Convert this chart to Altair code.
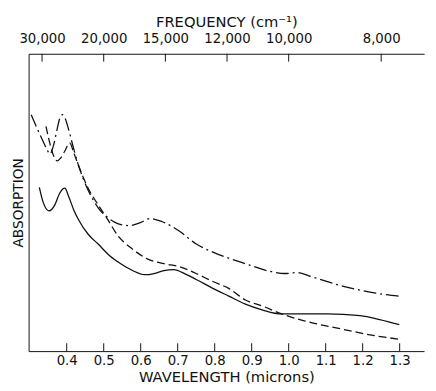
import altair as alt
import pandas as pd

# ---- data (wavelength in microns, absorption in arbitrary units) ----
dashdot_wl = [0.304, 0.320, 0.336, 0.347, 0.355, 0.363, 0.374, 0.381, 0.389, 0.397, 0.405,
              0.419, 0.432, 0.458, 0.485, 0.511, 0.538, 0.570, 0.599, 0.625, 0.657, 0.705,
              0.750, 0.795, 0.883, 0.954, 0.989, 1.023, 1.060, 1.148, 1.236, 1.299]
dashdot_abs = [7.95, 7.49, 7.06, 6.77, 6.63, 6.86, 7.46, 7.82, 7.95, 7.79, 7.46,
               6.80, 6.24, 5.41, 4.82, 4.49, 4.29, 4.22, 4.32, 4.46, 4.36, 4.03,
               3.60, 3.33, 2.94, 2.67, 2.61, 2.64, 2.51, 2.18, 1.95, 1.85]

dashed_wl = [0.344, 0.355, 0.366, 0.374, 0.384, 0.395, 0.408, 0.419, 0.432, 0.458, 0.485,
             0.511, 0.538, 0.578, 0.618, 0.663, 0.705, 0.750, 0.795, 0.838, 0.883, 0.928,
             0.981, 1.042, 1.148, 1.228, 1.299]
dashed_abs = [7.56, 6.96, 6.53, 6.40, 6.50, 6.73, 7.00, 6.67, 6.24, 5.48, 4.92,
              4.42, 3.89, 3.43, 3.10, 2.94, 2.84, 2.61, 2.34, 2.11, 1.72, 1.52,
              1.25, 1.02, 0.73, 0.53, 0.40]

solid_wl = [0.326, 0.336, 0.352, 0.368, 0.381, 0.395, 0.405, 0.419, 0.432, 0.458, 0.485,
            0.517, 0.546, 0.578, 0.610, 0.636, 0.663, 0.689, 0.724, 0.750, 0.795, 0.838,
            0.883, 0.928, 0.981, 1.042, 1.103, 1.193, 1.246, 1.299]
solid_abs = [5.51, 5.02, 4.72, 4.92, 5.31, 5.48, 5.21, 4.75, 4.42, 3.93, 3.60,
             3.20, 2.94, 2.71, 2.57, 2.61, 2.71, 2.74, 2.57, 2.41, 2.11, 1.85,
             1.58, 1.39, 1.25, 1.25, 1.25, 1.19, 1.06, 0.89]

wl_ticks = [0.4, 0.5, 0.6, 0.7, 0.8, 0.9, 1.0, 1.1, 1.2, 1.3]
freq_ticks = [30000, 20000, 15000, 12000, 10000, 8000]          # cm^-1
freq_tick_wl = [1e4 / f for f in freq_ticks]                      # same positions in microns

# ---- layout ----
W, H = 403, 303
FONT = "DejaVu Sans"
INK = "#111111"

xscale = alt.Scale(domain=[0.297, 1.366], nice=False, zero=False)
yscale = alt.Scale(domain=[0, 10], nice=False, zero=False)


def curve(wl, ab, dash, with_y_axis=False):
    df = pd.DataFrame({"wl": wl, "a": ab})
    yaxis = None
    if with_y_axis:
        yaxis = alt.Axis(title="ABSORPTION", labels=False, ticks=False, grid=False,
                         domain=True, domainColor=INK, domainWidth=1,
                         titleFont=FONT, titleFontSize=14, titleFontWeight="normal",
                         titleColor=INK, titlePadding=3)
    mark_kw = dict(color=INK, strokeWidth=1.3, interpolate="monotone")
    if dash:
        mark_kw["strokeDash"] = dash
    return alt.Chart(df).mark_line(**mark_kw).encode(
        x=alt.X("wl:Q", scale=xscale, axis=None),
        y=alt.Y("a:Q", scale=yscale, axis=yaxis),
    )


dashdot = curve(dashdot_wl, dashdot_abs, [13, 4, 2, 4], with_y_axis=True)
dashed = curve(dashed_wl, dashed_abs, [8, 4])
solid = curve(solid_wl, solid_abs, None)

bottom_axis = alt.Axis(orient="bottom", values=wl_ticks, format=".1f", ticks=False,
                       grid=False, domain=True, domainColor=INK, domainWidth=1,
                       labelFont=FONT, labelFontSize=13.5, labelColor=INK, labelPadding=3,
                       labelOverlap=False, labelFlush=False,
                       title="WAVELENGTH (microns)", titleFont=FONT, titleFontSize=15,
                       titleFontWeight="normal", titleColor=INK, titlePadding=2)

top_axis = alt.Axis(orient="top", values=freq_tick_wl,
                    labelExpr="format(round(10000 / datum.value), ',')", ticks=False,
                    grid=False, domain=True, domainColor=INK, domainWidth=1,
                    labelFont=FONT, labelFontSize=13.5, labelColor=INK, labelPadding=8,
                    labelOverlap=False, labelFlush=False,
                    title="FREQUENCY (cm⁻¹)", titleFont=FONT, titleFontSize=15,
                    titleFontWeight="normal", titleColor=INK, titlePadding=3)

bottom_ticks = alt.Chart(pd.DataFrame({"wl": wl_ticks})).mark_rule(
    color=INK, strokeWidth=1).encode(
    x=alt.X("wl:Q", scale=xscale, axis=bottom_axis),
    y=alt.value(H), y2=alt.value(H - 8),
)

top_ticks = alt.Chart(pd.DataFrame({"wl": freq_tick_wl})).mark_rule(
    color=INK, strokeWidth=1).encode(
    x=alt.X("wl:Q", scale=xscale, axis=top_axis),
    y=alt.value(0), y2=alt.value(8),
)

chart = alt.layer(bottom_ticks, top_ticks, dashdot, dashed, solid).resolve_axis(
    x="independent", y="independent"
).properties(
    width=W, height=H,
    autosize="none",
    padding={"left": 21, "top": 43, "right": 4, "bottom": 37},
    background="white",
).configure_view(stroke=None)

chart.save("out.html", embed_options={"renderer": "svg", "actions": False})
